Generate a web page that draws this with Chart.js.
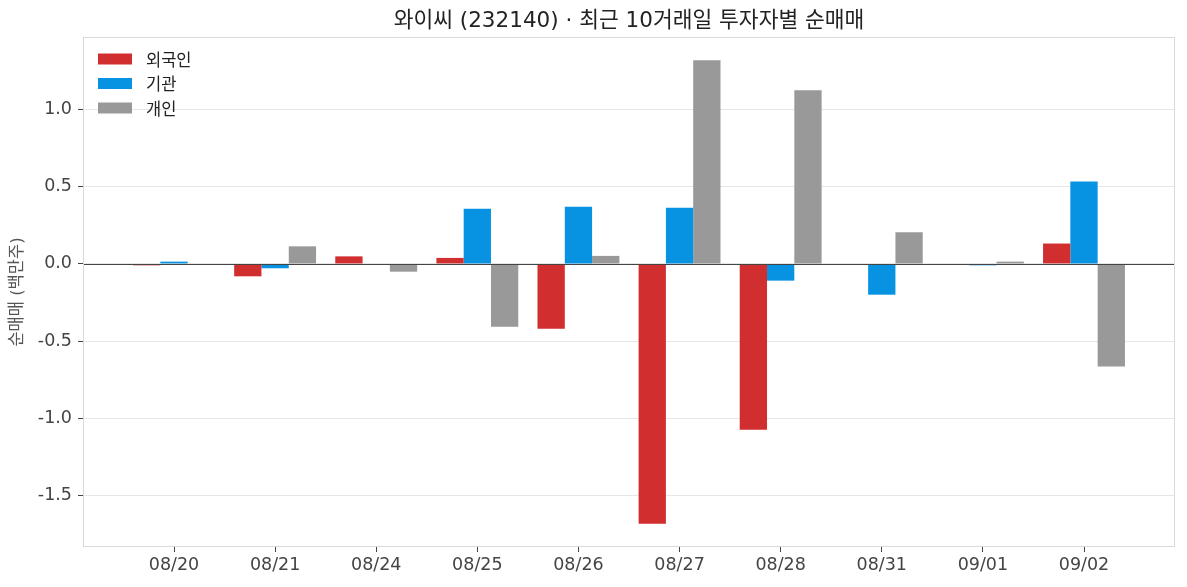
<!DOCTYPE html>
<html>
<head>
<meta charset="utf-8">
<script src="https://cdn.jsdelivr.net/npm/chart.js@4.4.1/dist/chart.umd.min.js"></script>
<style>
  html, body { margin: 0; padding: 0; background: #fff; }
  #wrap { width: 1187px; height: 587px; }
</style>
</head>
<body>
<div id="wrap"><canvas id="c"></canvas></div>
<script>
const dates = ['08/20','08/21','08/24','08/25','08/26','08/27','08/28','08/31','09/01','09/02'];
const foreign = [-0.009, -0.080, 0.049, 0.039, -0.420, -1.681, -1.072, 0.0, 0.0, 0.132];
const institution = [0.015, -0.028, -0.006, 0.357, 0.370, 0.364, -0.108, -0.199, -0.009, 0.533];
const individual = [0.0, 0.114, -0.050, -0.407, 0.052, 1.318, 1.123, 0.205, 0.015, -0.664];
const seriesNames = ['외국인', '기관', '개인'];
const seriesColors = ['#d12f2f', '#0893e2', '#999999'];
const yTicks = [-1.5, -1.0, -0.5, 0.0, 0.5, 1.0];
const titleText = '와이씨 (232140) · 최근 10거래일 투자자별 순매매';
const yTitle = '순매매 (백만주)';

const FONT = "'DejaVu Sans', 'Noto Sans CJK KR', sans-serif";
const KFONT = "'Noto Sans CJK KR', 'Noto Sans', sans-serif";

const toXY = arr => arr.map((v, i) => ({ x: i, y: v }));

const frame = {
  id: 'frame',
  afterDatasetsDraw(chart) {
    const { ctx, chartArea: a, scales } = chart;
    ctx.save();
    const y0 = Math.round(scales.y.getPixelForValue(0)) + 0.5;
    ctx.strokeStyle = '#444444';
    ctx.lineWidth = 1.2;
    ctx.beginPath();
    ctx.moveTo(a.left, y0);
    ctx.lineTo(a.right, y0);
    ctx.stroke();
    ctx.strokeStyle = '#dadada';
    ctx.lineWidth = 1;
    ctx.strokeRect(a.left + 0.5, a.top + 0.5, a.right - a.left - 1, a.bottom - a.top - 1);
    ctx.restore();
  }
};

const insideLegend = {
  id: 'insideLegend',
  afterDraw(chart) {
    const { ctx, chartArea: a } = chart;
    ctx.save();
    ctx.font = "16.5px " + KFONT;
    ctx.textBaseline = 'middle';
    ctx.textAlign = 'left';
    chart.data.datasets.forEach((ds, i) => {
      const cy = a.top + 22 + i * 24.5;
      ctx.fillStyle = ds.backgroundColor;
      ctx.fillRect(a.left + 15, cy - 5.5, 34, 11);
      ctx.fillStyle = '#222222';
      ctx.fillText(ds.label, a.left + 63, cy + 0.5);
    });
    ctx.restore();
  }
};

new Chart(document.getElementById('c'), {
  type: 'bar',
  data: {
    datasets: [
      { label: seriesNames[0], data: toXY(foreign), backgroundColor: seriesColors[0] },
      { label: seriesNames[1], data: toXY(institution), backgroundColor: seriesColors[1] },
      { label: seriesNames[2], data: toXY(individual), backgroundColor: seriesColors[2] }
    ]
  },
  options: {
    responsive: true,
    maintainAspectRatio: false,
    animation: false,
    layout: { padding: { left: 0, right: 12, top: 0, bottom: 0 } },
    datasets: { bar: { categoryPercentage: 0.81, barPercentage: 1.0, borderWidth: 0 } },
    plugins: {
      title: {
        display: true,
        text: titleText,
        fullSize: false,
        color: '#222222',
        font: { family: FONT, size: 21.5, weight: 'normal' },
        padding: { top: 9, bottom: 2.2 }
      },
      legend: { display: false },
      tooltip: { enabled: false }
    },
    scales: {
      x: {
        type: 'linear',
        min: -0.9,
        max: 9.9,
        offset: false,
        afterBuildTicks: s => { s.ticks = dates.map((_, i) => ({ value: i })); },
        afterFit: s => { s.height = 40; },
        ticks: {
          autoSkip: false,
          maxRotation: 0,
          padding: 3,
          color: '#444444',
          font: { family: FONT, size: 17.5 },
          callback: v => dates[v] ?? ''
        },
        grid: { offset: false, drawOnChartArea: false, tickLength: 5, tickColor: '#444444' },
        border: { display: false }
      },
      y: {
        min: -1.831,
        max: 1.468,
        afterBuildTicks: s => { s.ticks = yTicks.map(v => ({ value: v })); },
        afterFit: s => { s.width = 83; },
        ticks: {
          padding: 6,
          color: '#444444',
          font: { family: FONT, size: 17.5 },
          callback: v => Number(v).toFixed(1)
        },
        grid: { color: '#e6e6e6', lineWidth: 1, tickLength: 5, tickColor: '#444444' },
        border: { display: false },
        title: {
          display: true,
          text: yTitle,
          color: '#555555',
          font: { family: FONT, size: 16.5 },
          padding: { top: 8, bottom: 0 }
        }
      }
    }
  },
  plugins: [frame, insideLegend]
});
</script>
</body>
</html>
